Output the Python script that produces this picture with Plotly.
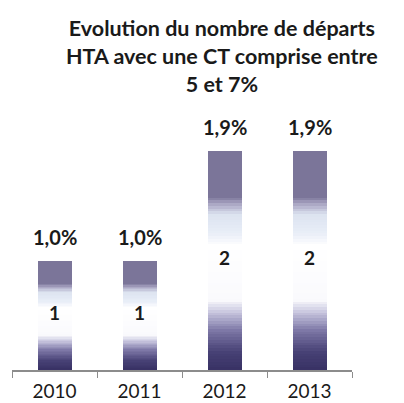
import plotly.graph_objects as go

# data
years = ["2010", "2011", "2012", "2013"]
nb_departs = [1, 1, 2, 2]
pct_labels = ["1,0%", "1,0%", "1,9%", "1,9%"]

FONT = "Lato"
TXT = "#1a1a1a"

# vertical colour stops of the bar fill (0 = bottom, 1 = top)
stops = [
    (0.00, (56, 49, 100)),
    (0.08, (70, 64, 116)),
    (0.18, (125, 119, 166)),
    (0.26, (196, 194, 220)),
    (0.32, (250, 250, 253)),
    (0.57, (255, 255, 255)),
    (0.62, (234, 239, 248)),
    (0.71, (220, 227, 240)),
    (0.76, (168, 164, 194)),
    (0.79, (123, 117, 153)),
    (1.00, (123, 117, 153)),
]


def color_at(f):
    for (f0, c0), (f1, c1) in zip(stops[:-1], stops[1:]):
        if f0 <= f <= f1:
            t = 0 if f1 == f0 else (f - f0) / (f1 - f0)
            c = [round(a + (b - a) * t) for a, b in zip(c0, c1)]
            return "rgb(%d,%d,%d)" % tuple(c)
    return "rgb(%d,%d,%d)" % stops[-1][1]


# gradient: overlaid bars, tallest first, each shorter one covering the lower part
n_slices = 80
fig = go.Figure()
for i in range(n_slices):
    top = 1 - i / n_slices
    fig.add_trace(go.Bar(
        x=years, y=[v * top for v in nb_departs],
        marker=dict(color=color_at(top - 0.5 / n_slices), line=dict(width=0)),
        width=0.4, hoverinfo="skip", showlegend=False,
    ))

# value inside the bar
fig.add_trace(go.Scatter(
    x=years, y=[v / 2 for v in nb_departs], mode="text",
    text=["<b>%d</b>" % v for v in nb_departs],
    textfont=dict(family=FONT, size=19, color=TXT),
    showlegend=False, hoverinfo="skip",
))

# percentage above each bar
for i, (v, lab) in enumerate(zip(nb_departs, pct_labels)):
    fig.add_annotation(x=i, y=v, text="<b>%s</b>" % lab, showarrow=False,
                       yanchor="middle", yshift=24,
                       font=dict(family=FONT, size=20, color=TXT))

fig.add_annotation(
    xref="paper", yref="paper", x=(222 - 12) / 340, y=1.0, yanchor="bottom", yshift=14,
    text="<b>Evolution du nombre de départs<br>HTA avec une CT comprise entre<br>5 et 7%</b>",
    showarrow=False, font=dict(family=FONT, size=21.5, color=TXT),
)

fig.update_layout(
    barmode="overlay", bargap=0,
    width=404, height=403,
    margin=dict(l=12, r=52, t=113, b=33),
    paper_bgcolor="white", plot_bgcolor="white",
    font=dict(family=FONT),
)
fig.update_xaxes(
    type="category", range=[-0.5, 3.5], showline=True, linecolor="#8c8c8c", linewidth=1.5,
    ticks="outside", tickson="boundaries", ticklen=6, tickcolor="#8c8c8c", tickangle=0,
    ticklabelstandoff=3, automargin=False,
    tickfont=dict(family=FONT, size=19, color=TXT), showgrid=False,
)
fig.update_yaxes(range=[0, 2.35], visible=False, showgrid=False)

# drop the default page margin so the figure sits at the window's corner
fig.write_html("out.html", config={"displayModeBar": False},
               post_script="document.body.style.margin='0';")
